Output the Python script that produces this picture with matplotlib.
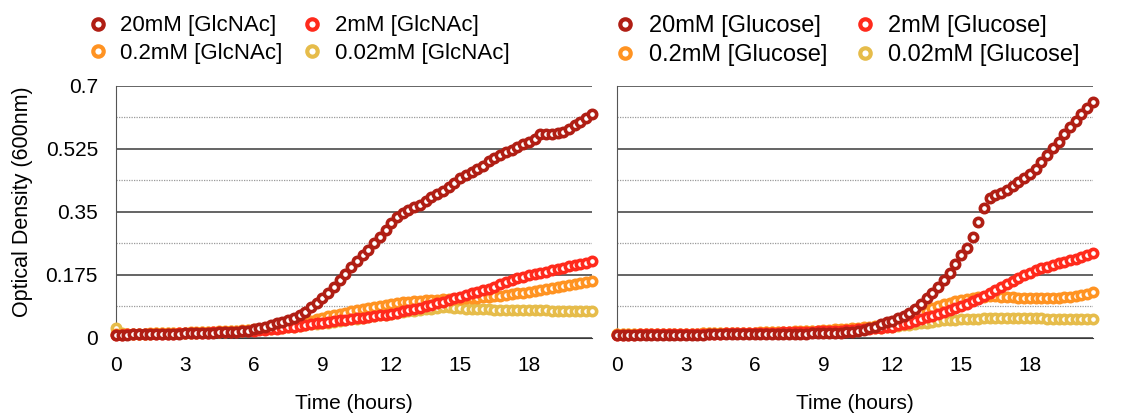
import numpy as np
import matplotlib
matplotlib.use("Agg")
import matplotlib.pyplot as plt
from matplotlib.lines import Line2D

plt.rcParams['font.family'] = ['Liberation Sans', 'DejaVu Sans']

# sampling every 15 minutes, 0 .. 20.75 h
time_h = np.arange(84) * 0.25

glcnac_20 = [
    0.008, 0.008, 0.008, 0.009, 0.009, 0.009, 0.010, 0.010, 0.010, 0.011, 0.011, 0.011,
    0.012, 0.012, 0.013, 0.013, 0.014, 0.014, 0.015, 0.016, 0.016, 0.017, 0.018, 0.020,
    0.024, 0.027, 0.031, 0.035, 0.040, 0.045, 0.050, 0.056, 0.062, 0.072, 0.084, 0.097,
    0.110, 0.125, 0.142, 0.160, 0.178, 0.196, 0.213, 0.229, 0.245, 0.262, 0.280, 0.300,
    0.318, 0.335, 0.347, 0.355, 0.362, 0.370, 0.380, 0.390, 0.398, 0.408, 0.418, 0.430,
    0.443, 0.452, 0.460, 0.468, 0.478, 0.490, 0.500, 0.508, 0.515, 0.522, 0.530, 0.537,
    0.545, 0.553, 0.565, 0.567, 0.566, 0.568, 0.572, 0.580, 0.590, 0.600, 0.610, 0.620,
]
glcnac_2 = [
    0.008, 0.008, 0.009, 0.009, 0.009, 0.010, 0.010, 0.010, 0.011, 0.011, 0.011, 0.012,
    0.012, 0.013, 0.013, 0.014, 0.014, 0.015, 0.015, 0.016, 0.017, 0.017, 0.018, 0.019,
    0.020, 0.021, 0.022, 0.024, 0.025, 0.027, 0.029, 0.031, 0.033, 0.035, 0.037, 0.040,
    0.042, 0.044, 0.046, 0.048, 0.050, 0.052, 0.054, 0.056, 0.058, 0.060, 0.062, 0.064,
    0.066, 0.069, 0.073, 0.076, 0.079, 0.083, 0.087, 0.092, 0.096, 0.100, 0.104, 0.109,
    0.114, 0.119, 0.123, 0.127, 0.132, 0.136, 0.142, 0.148, 0.154, 0.159, 0.165, 0.169,
    0.173, 0.177, 0.180, 0.183, 0.187, 0.191, 0.195, 0.198, 0.201, 0.204, 0.208, 0.213,
]
glcnac_02 = [
    0.010, 0.010, 0.010, 0.011, 0.011, 0.011, 0.012, 0.012, 0.012, 0.013, 0.013, 0.014,
    0.014, 0.015, 0.015, 0.016, 0.016, 0.017, 0.018, 0.018, 0.019, 0.020, 0.021, 0.022,
    0.023, 0.025, 0.027, 0.029, 0.031, 0.033, 0.036, 0.038, 0.041, 0.044, 0.047, 0.051,
    0.055, 0.059, 0.062, 0.066, 0.070, 0.073, 0.076, 0.080, 0.083, 0.086, 0.089, 0.092,
    0.094, 0.096, 0.098, 0.100, 0.102, 0.103, 0.104, 0.105, 0.106, 0.107, 0.107, 0.108,
    0.108, 0.109, 0.110, 0.111, 0.112, 0.113, 0.115, 0.117, 0.119, 0.121, 0.123, 0.125,
    0.128, 0.130, 0.133, 0.135, 0.138, 0.141, 0.143, 0.146, 0.149, 0.152, 0.155, 0.158,
]
glcnac_002 = [
    0.028, 0.012, 0.010, 0.010, 0.011, 0.011, 0.011, 0.012, 0.012, 0.012, 0.013, 0.013,
    0.013, 0.014, 0.014, 0.015, 0.015, 0.016, 0.017, 0.017, 0.018, 0.019, 0.020, 0.021,
    0.022, 0.023, 0.024, 0.025, 0.027, 0.028, 0.030, 0.031, 0.033, 0.035, 0.037, 0.038,
    0.040, 0.042, 0.044, 0.046, 0.049, 0.051, 0.053, 0.055, 0.058, 0.060, 0.062, 0.064,
    0.066, 0.068, 0.071, 0.073, 0.075, 0.077, 0.079, 0.081, 0.083, 0.084, 0.084, 0.083,
    0.082, 0.081, 0.080, 0.080, 0.079, 0.079, 0.078, 0.078, 0.077, 0.077, 0.077, 0.077,
    0.076, 0.076, 0.076, 0.076, 0.075, 0.075, 0.075, 0.075, 0.075, 0.074, 0.074, 0.074,
]

glucose_20 = [
    0.007, 0.007, 0.007, 0.007, 0.007, 0.007, 0.008, 0.008, 0.008, 0.008, 0.008, 0.008,
    0.008, 0.008, 0.008, 0.008, 0.009, 0.009, 0.009, 0.009, 0.009, 0.009, 0.009, 0.010,
    0.010, 0.010, 0.010, 0.010, 0.010, 0.011, 0.011, 0.011, 0.011, 0.011, 0.012, 0.012,
    0.012, 0.013, 0.013, 0.014, 0.015, 0.017, 0.019, 0.022, 0.026, 0.031, 0.037, 0.043,
    0.047, 0.054, 0.060, 0.069, 0.080, 0.094, 0.109, 0.123, 0.140, 0.160, 0.181, 0.205,
    0.230, 0.248, 0.281, 0.322, 0.360, 0.387, 0.396, 0.402, 0.410, 0.421, 0.433, 0.443,
    0.454, 0.470, 0.489, 0.508, 0.526, 0.545, 0.565, 0.586, 0.603, 0.620, 0.637, 0.654,
]
glucose_2 = [
    0.008, 0.008, 0.008, 0.008, 0.009, 0.009, 0.009, 0.009, 0.009, 0.010, 0.010, 0.010,
    0.010, 0.010, 0.010, 0.011, 0.011, 0.011, 0.011, 0.012, 0.012, 0.012, 0.012, 0.013,
    0.013, 0.013, 0.014, 0.014, 0.014, 0.015, 0.015, 0.016, 0.016, 0.017, 0.017, 0.018,
    0.018, 0.019, 0.019, 0.020, 0.021, 0.022, 0.023, 0.024, 0.025, 0.026, 0.028, 0.029,
    0.031, 0.034, 0.038, 0.042, 0.047, 0.052, 0.057, 0.061, 0.066, 0.071, 0.077, 0.082,
    0.088, 0.095, 0.102, 0.108, 0.115, 0.123, 0.132, 0.141, 0.148, 0.157, 0.166, 0.174,
    0.181, 0.188, 0.194, 0.197, 0.203, 0.207, 0.211, 0.216, 0.220, 0.225, 0.230, 0.234,
]
glucose_02 = [
    0.009, 0.009, 0.009, 0.009, 0.009, 0.010, 0.010, 0.010, 0.010, 0.010, 0.011, 0.011,
    0.011, 0.011, 0.011, 0.012, 0.012, 0.012, 0.012, 0.013, 0.013, 0.013, 0.014, 0.014,
    0.014, 0.015, 0.015, 0.016, 0.016, 0.017, 0.017, 0.018, 0.018, 0.019, 0.020, 0.020,
    0.021, 0.022, 0.023, 0.024, 0.025, 0.026, 0.027, 0.029, 0.030, 0.032, 0.033, 0.035,
    0.040, 0.045, 0.050, 0.056, 0.062, 0.068, 0.075, 0.082, 0.088, 0.093, 0.097, 0.101,
    0.104, 0.107, 0.110, 0.112, 0.114, 0.115, 0.115, 0.114, 0.113, 0.112, 0.111, 0.110,
    0.109, 0.109, 0.109, 0.110, 0.110, 0.111, 0.112, 0.114, 0.116, 0.119, 0.122, 0.126,
]
glucose_002 = [
    0.009, 0.009, 0.009, 0.009, 0.009, 0.010, 0.010, 0.010, 0.010, 0.010, 0.011, 0.011,
    0.011, 0.011, 0.011, 0.012, 0.012, 0.012, 0.012, 0.013, 0.013, 0.013, 0.013, 0.014,
    0.014, 0.014, 0.015, 0.015, 0.015, 0.016, 0.016, 0.017, 0.017, 0.018, 0.018, 0.019,
    0.019, 0.020, 0.021, 0.021, 0.022, 0.023, 0.024, 0.025, 0.026, 0.027, 0.028, 0.029,
    0.031, 0.032, 0.034, 0.036, 0.038, 0.040, 0.042, 0.044, 0.046, 0.048, 0.049, 0.050,
    0.051, 0.052, 0.053, 0.053, 0.054, 0.054, 0.054, 0.054, 0.054, 0.054, 0.054, 0.054,
    0.054, 0.054, 0.054, 0.053, 0.053, 0.053, 0.053, 0.053, 0.053, 0.052, 0.052, 0.052,
]

concentrations = ['20mM', '2mM', '0.2mM', '0.02mM']
colors = ['#B01E14', '#FF2A1C', '#FF9322', '#E6BC4A']
x_ticks = [0, 3, 6, 9, 12, 15, 18]
y_ticks = [0, 0.175, 0.35, 0.525, 0.7]
y_ticklabels = ['0', '0.175', '0.35', '0.525', '0.7']

panels = [
    ('GlcNAc', [glcnac_20, glcnac_2, glcnac_02, glcnac_002]),
    ('Glucose', [glucose_20, glucose_2, glucose_02, glucose_002]),
]

fig = plt.figure(figsize=(11.22, 4.13), dpi=100)
ax_left = fig.add_axes([0.1034, 0.1823, 0.4242, 0.6102])
ax_right = fig.add_axes([0.5499, 0.1823, 0.4242, 0.6102])
legend_x = [0.0793, 0.5487]
legend_fs = [16, 17]
legend_colsp = [0.95, 1.2]

for k, (ax, (sugar, series)) in enumerate(zip([ax_left, ax_right], panels)):
    # draw lowest concentration first so 20mM ends on top
    for vals, color in reversed(list(zip(series, colors))):
        ax.plot(time_h, vals, 'o', mfc='white', mec=color, ms=6.0, mew=2.6,
                clip_on=False, zorder=3)

    ax.set_xlim(0, 20.75)
    ax.set_ylim(0, 0.7)
    ax.set_xticks(x_ticks)
    ax.set_yticks(y_ticks)
    ax.set_yticks([0.0875, 0.2625, 0.4375, 0.6125], minor=True)
    if k == 0:
        ax.set_yticklabels(y_ticklabels)
        ax.set_ylabel('Optical Density (600nm)', fontsize=15.5)
        ax.yaxis.set_label_coords(-0.175, 0.538)
    else:
        ax.set_yticklabels([])
    ax.tick_params(axis='both', which='both', length=0, labelsize=15, pad=13)
    ax.grid(True, which='major', axis='y', color='#3a3a3a', lw=1.1, ls='-')
    ax.grid(True, which='minor', axis='y', color='#9a9a9a', lw=0.9, ls=(0, (1, 1)))
    ax.set_axisbelow(True)
    for side in ['top', 'right']:
        ax.spines[side].set_visible(False)
    ax.spines['left'].set_color('#555555')
    ax.spines['bottom'].set_color('#3a3a3a')
    ax.set_xlabel('Time (hours)', fontsize=15, labelpad=14)

    # legend reads row-wise: 20mM, 2mM / 0.2mM, 0.02mM
    order = [0, 2, 1, 3]
    handles = [Line2D([], [], ls='none', marker='o', mfc='white', mec=colors[i],
                      ms=7.5, mew=3.0) for i in order]
    labels = [f'{concentrations[i]} [{sugar}]' for i in order]
    ax.legend(handles, labels, ncol=2, loc='upper left',
              bbox_to_anchor=(legend_x[k], 0.963), bbox_transform=fig.transFigure,
              frameon=False, fontsize=legend_fs[k], handlelength=0.8, handletextpad=0.6,
              columnspacing=legend_colsp[k], labelspacing=0.28, borderaxespad=0,
              borderpad=0)

fig.savefig('out.png', dpi=100)
